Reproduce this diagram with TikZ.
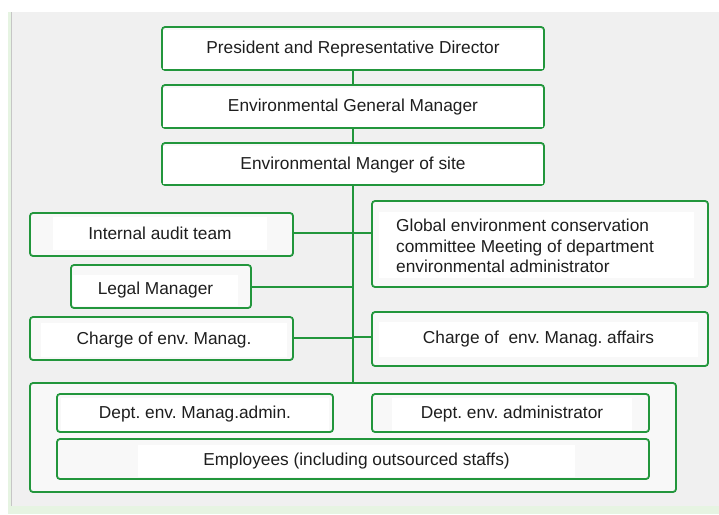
\documentclass[tikz,border=0pt]{standalone}
\usepackage{fontspec}
\setmainfont{Liberation Sans}
\frenchspacing
\definecolor{grn}{HTML}{22963C}
\definecolor{panel}{HTML}{F0F0F0}
\definecolor{boxbg}{HTML}{F8F8F8}
\definecolor{txt}{HTML}{1E1E1E}
\definecolor{tint}{HTML}{E6F4E2}
\tikzset{
  orgbox/.style={draw=grn, line width=1.8pt, rounded corners=3pt, fill=boxbg, inner sep=0pt},
  lbl/.style={fill=white, text=txt, inner sep=0pt, font=\fontsize{17.3}{20.6}\selectfont},
  conn/.style={draw=grn, line width=1.8pt}
}
\begin{document}
\begin{tikzpicture}[x=1pt, y=-1pt]
\useasboundingbox (0,0) rectangle (719,514);
% background panel
\fill[white] (0,0) rectangle (719,514);
\fill[tint] (8,12) rectangle (719,514);
\fill[panel] (11,12) rectangle (719,506);
\draw[gray!45, line width=1pt] (11,12) -- (11,506);
% boxes
\node[orgbox, minimum width=382pt, minimum height=43pt] (pres) at (353,48.5) {};
\node[orgbox, minimum width=382pt, minimum height=43pt] (egm) at (353,106.5) {};
\node[orgbox, minimum width=382pt, minimum height=42pt] (ems) at (353,164) {};
\node[orgbox, minimum width=263pt, minimum height=43pt] (audit) at (161.5,234.5) {};
\node[orgbox, minimum width=180pt, minimum height=43pt] (legal) at (161,286.5) {};
\node[orgbox, minimum width=263pt, minimum height=43pt] (charge) at (161.5,338.5) {};
\node[orgbox, minimum width=336pt, minimum height=86pt] (global) at (540,244) {};
\node[orgbox, minimum width=336pt, minimum height=54pt] (affairs) at (540,339) {};
\node[orgbox, minimum width=646pt, minimum height=109pt] (outer) at (353,437.5) {};
\node[orgbox, minimum width=276pt, minimum height=38pt] (dadmin) at (195,413) {};
\node[orgbox, minimum width=277pt, minimum height=38pt] (dadm) at (510.5,413) {};
\node[orgbox, minimum width=592pt, minimum height=40pt] (emp) at (353,459) {};
% labels
\node[lbl, minimum width=380pt, minimum height=39pt] (tpres) at (353,49.5) {President and Representative Director};
\node[lbl, minimum width=380pt, minimum height=39pt] (tegm) at (353,107.5) {Environmental General Manager};
\node[lbl, minimum width=380pt, minimum height=38pt] (tems) at (353,165) {Environmental Manger of site};
\node[lbl, minimum width=214pt, minimum height=33pt] (taudit) at (160,233.5) {Internal audit team};
\node[lbl, minimum width=165pt, minimum height=31pt] (tlegal) at (155.5,290) {Legal Manager};
\node[lbl, minimum width=246pt, minimum height=34pt] (tcharge) at (164,340) {Charge of env. Manag.};
\node[lbl, minimum width=315pt, minimum height=66pt] (tgbg) at (536.5,245) {};
\node[lbl, fill=none, anchor=west, align=left] (tglobal) at (396,246) {Global environment conservation\\committee Meeting of department\\environmental administrator};
\node[lbl, minimum width=319pt, minimum height=35pt] (taffairs) at (538.5,339.5) {Charge of\ \ env. Manag. affairs};
\node[lbl, minimum width=268pt, minimum height=33pt] (tdadmin) at (195,414) {Dept. env. Manag.admin.};
\node[lbl, minimum width=240pt, minimum height=33pt] (tdadm) at (512,414) {Dept. env. administrator};
\node[lbl, minimum width=437pt, minimum height=32pt] (temp) at (356.5,461) {Employees (including outsourced staffs)};
% trunk and branches
\coordinate (ta) at (353,233);
\coordinate (tl) at (353,287);
\coordinate (tc) at (353,338);
\coordinate (tf) at (353,337);
\draw[conn] (pres.south) -- (egm.north);
\draw[conn] (egm.south) -- (ems.north);
\draw[conn] (ems.south) -- (outer.north);
\draw[conn] (audit.east |- ta) -- (ta);
\draw[conn] (ta) -- (global.west |- ta);
\draw[conn] (legal.east |- tl) -- (tl);
\draw[conn] (charge.east |- tc) -- (tc);
\draw[conn] (tf) -- (affairs.west |- tf);
\end{tikzpicture}
\end{document}
